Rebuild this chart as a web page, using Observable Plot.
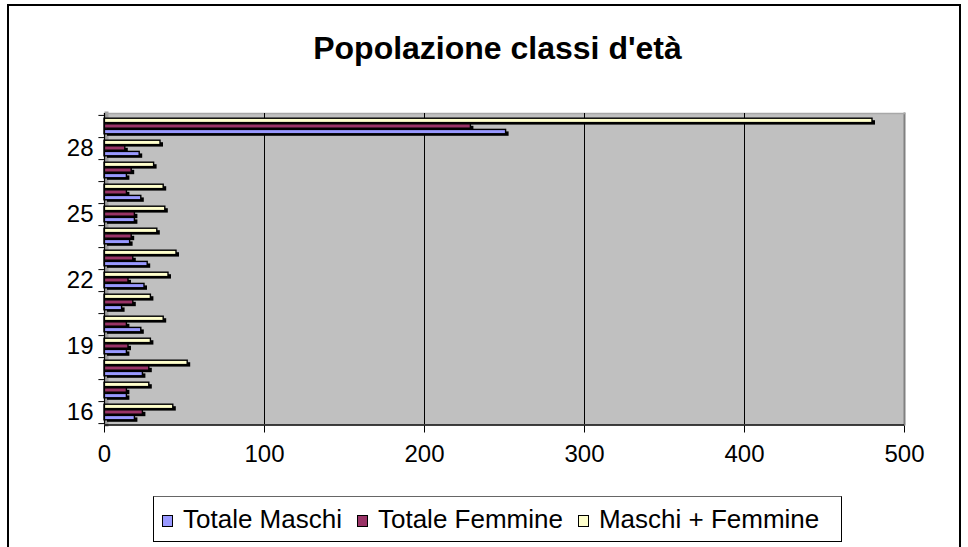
<!DOCTYPE html>
<html>
<head>
<meta charset="utf-8">
<script src="https://cdn.jsdelivr.net/npm/d3@7"></script>
<script src="https://cdn.jsdelivr.net/npm/@observablehq/plot@0.6"></script>
<style>
  html, body { margin: 0; padding: 0; background: #fff; width: 968px; height: 547px; overflow: hidden; font-family: "Liberation Sans", Arial, sans-serif; }
  #frame { position: absolute; left: 7px; top: 4px; width: 954px; height: 600px; border: 2px solid #000; box-sizing: border-box; }
  #title { position: absolute; left: 0; top: 32px; width: 995px; text-align: center; font-weight: bold; font-size: 32px; line-height: 32px; color: #000; }
  #chart { position: absolute; left: 0; top: 100px; }
  #legend { position: absolute; left: 153px; top: 496px; width: 689px; height: 46px; box-sizing: border-box; border: 1px solid #000; border-top-color: #666; display: flex; align-items: center; padding-left: 8px; font-size: 26px; color: #000; }
  .item { display: flex; align-items: center; margin-right: 15px; white-space: nowrap; }
  .sw { flex-shrink: 0; width: 9px; height: 10px; border: 1.5px solid #000; margin-right: 10px; margin-top: 3px; }
</style>
</head>
<body>
<div id="frame"></div>
<div id="title">Popolazione classi d'età</div>
<div id="chart"></div>
<div id="legend"></div>
<script>
// Data
const categories = ["16","17","18","19","20","21","22","23","24","25","26","27","28","Totale"];
const maschi  = [19, 14, 24, 14, 23, 11, 25, 27, 16, 19, 23, 14, 22, 251];
const femmine = [24, 14, 28, 15, 14, 18, 15, 18, 17, 19, 14, 17, 13, 229];
const totale  = [43, 28, 52, 29, 37, 29, 40, 45, 33, 38, 37, 31, 35, 480];
const seriesNames = ["Totale Maschi", "Totale Femmine", "Maschi + Femmine"];
const seriesColors = ["#9999FF", "#993366", "#FFFFCC"];
const yTickLabels = ["16","19","22","25","28"];
const xTicks = [0, 100, 200, 300, 400, 500];

const rows = categories.map((c, i) => ({cat: c, m: maschi[i], f: femmine[i], t: totale[i]}));

const W = 968, H = 370, mT = 13, mB = 46, mL = 104, mR = 64;
const bw = (H - mT - mB) / categories.length;
const barH = 4.6;
const inset = (bw - barH) / 2;
const off = 5.6;

function barPair(key, color, dy) {
  return [
    Plot.barX(rows, {x: key, y: "cat", fill: "#000", insetTop: inset, insetBottom: inset, dx: 3, dy: dy + 2}),
    Plot.barX(rows, {x: key, y: "cat", fill: color, stroke: "#000", strokeWidth: 1.4, insetTop: inset, insetBottom: inset, dy: dy})
  ];
}

const chart = Plot.plot({
  width: W, height: H,
  marginTop: mT, marginBottom: mB, marginLeft: mL, marginRight: mR,
  style: {fontFamily: "Liberation Sans, Arial, sans-serif", fontSize: "24px", color: "#000", background: "transparent"},
  x: {domain: [0, 500], axis: null},
  y: {domain: categories.slice().reverse(), padding: 0, axis: null},
  marks: [
    Plot.frame({fill: "#C0C0C0"}),
    Plot.frame({anchor: "left", stroke: "#A0A0A0", strokeWidth: 4, dx: 2}),
    Plot.frame({anchor: "right", stroke: "#808080", strokeWidth: 2}),
    Plot.frame({anchor: "top", stroke: "#A8A8A8", strokeWidth: 1.5}),
    Plot.gridX({ticks: [100, 200, 300, 400], stroke: "#000", strokeOpacity: 1, strokeWidth: 1}),
    ...barPair("t", seriesColors[2], -off),
    ...barPair("f", seriesColors[1], 0),
    ...barPair("m", seriesColors[0], off),
    Plot.ruleX([0], {stroke: "#000", strokeWidth: 1.2}),
    Plot.ruleY([categories[0]], {x1: 0, x2: 500, stroke: "#000", strokeWidth: 1.5, dy: bw / 2 + 1.5}),
    Plot.ruleY(categories, {x1: -3.5, x2: 0, stroke: "#000", dy: bw / 2}),
    Plot.ruleY([categories[categories.length - 1]], {x1: -3.5, x2: 0, stroke: "#000", dy: -bw / 2}),
    Plot.axisY({ticks: yTickLabels, tickSize: 0, tickPadding: 11, fontSize: 24, label: null}),
    Plot.axisX({ticks: xTicks, tickSize: 7, tickPadding: 12, fontSize: 24, dy: 1.5, label: null})
  ]
});
document.getElementById("chart").appendChild(chart);

const legend = document.getElementById("legend");
seriesNames.forEach((name, i) => {
  const it = document.createElement("div");
  it.className = "item";
  const sw = document.createElement("div");
  sw.className = "sw";
  sw.style.background = seriesColors[i];
  const tx = document.createElement("span");
  tx.textContent = name;
  it.appendChild(sw); it.appendChild(tx);
  legend.appendChild(it);
});
</script>
</body>
</html>
